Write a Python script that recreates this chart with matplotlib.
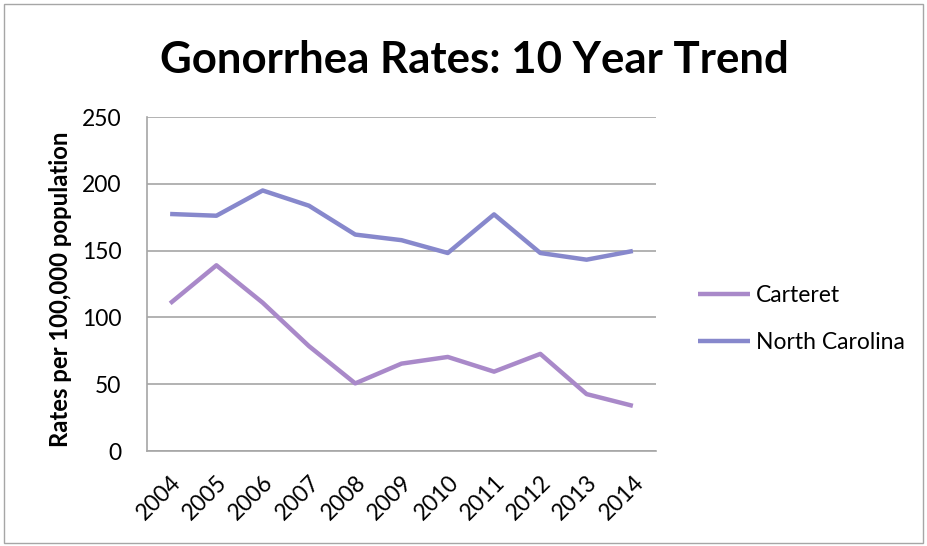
import matplotlib
matplotlib.use("Agg")
import matplotlib.pyplot as plt
from matplotlib.patches import Rectangle

years = ["2004", "2005", "2006", "2007", "2008", "2009", "2010", "2011", "2012", "2013", "2014"]
carteret = [110.5, 139, 111, 78.5, 50.6, 65.4, 70.4, 59.4, 72.7, 42.6, 33.8]
north_carolina = [177.4, 176.1, 195, 183.6, 162, 157.8, 148.2, 177.1, 148.2, 143.2, 149.7]
yticks = [0, 50, 100, 150, 200, 250]

plt.rcParams['font.family'] = ['Lato', 'DejaVu Sans']

W, H = 928, 546
fig = plt.figure(figsize=(W / 100, H / 100), dpi=100)
ax = fig.add_axes([147 / W, 1 - 451 / H, (656 - 147) / W, (451 - 117) / H])

x = list(range(len(years)))
ax.plot(x, carteret, color="#A989C9", lw=3.2, label="Carteret", solid_capstyle="butt")
ax.plot(x, north_carolina, color="#8788CC", lw=3.2, label="North Carolina", solid_capstyle="butt")

ax.set_xlim(-0.5, len(years) - 0.5)
ax.set_ylim(0, 250)
ax.set_yticks(yticks)
ax.set_yticklabels([str(v) for v in yticks], fontsize=16.5)
ax.set_xticks(x)
ax.set_xticklabels(years, rotation=45, ha="right", va="top", rotation_mode="anchor", fontsize=16.5)
ax.tick_params(axis="y", length=0, pad=18.5)
ax.tick_params(axis="x", length=0, pad=15)
ax.grid(axis="y", color="#A6A6A6", lw=1.2)
ax.set_axisbelow(True)
for s in ["top", "right"]:
    ax.spines[s].set_visible(False)
ax.spines["left"].set_color("#A6A6A6")
ax.spines["bottom"].set_color("#A6A6A6")
ax.spines["left"].set_linewidth(1.2)
ax.spines["bottom"].set_linewidth(1.2)

fig.text(61 / W, 1 - 289 / H, "Rates per 100,000 population", ha="center", va="center",
         rotation=90, fontsize=17.2, fontweight="bold")

fig.text(474 / W, 1 - 60 / H, "Gonorrhea Rates: 10 Year Trend", ha="center", va="center",
         fontsize=31.5, fontweight="bold")

leg = ax.legend(loc="center left", bbox_to_anchor=(698 / W, 1 - 319 / H), bbox_transform=fig.transFigure,
                frameon=False, fontsize=16.5, handlelength=2.27, labelspacing=1.15, handletextpad=0.27,
                borderpad=0, borderaxespad=0)

fig.patches.append(Rectangle((4 / W, 1 - 543 / H), (923 - 4) / W, (543 - 4) / H,
                             transform=fig.transFigure, fill=False, edgecolor="#A6A6A6", lw=1))

fig.savefig("out.png", dpi=100)
